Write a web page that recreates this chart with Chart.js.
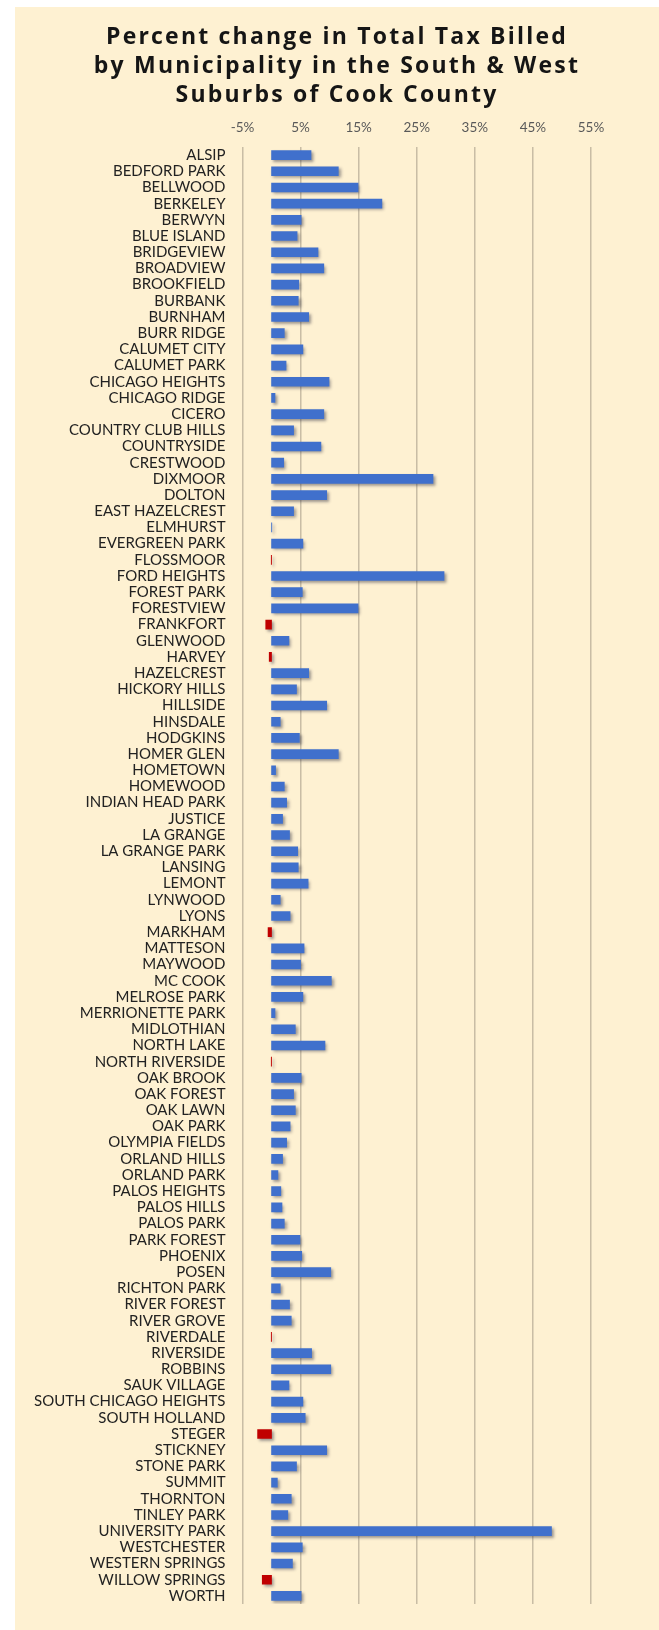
<!DOCTYPE html>
<html>
<head>
<meta charset="utf-8">
<script src="https://cdn.jsdelivr.net/npm/chart.js@4.4.1/dist/chart.umd.min.js"></script>
<style>
  html, body { margin: 0; padding: 0; background: #ffffff; }
  #frame { position: absolute; left: 15px; top: 7px; width: 644px; height: 1623px; background: #FEF1D2; }
  #title { position: absolute; left: 0; top: 14px; width: 644px; text-align: center;
           font-family: "Open Sans", Lato, sans-serif; font-weight: 700; font-size: 23px;
           line-height: 29px; letter-spacing: 2.2px; color: #151515; }
  #wrap { position: absolute; left: 0; top: 0; width: 644px; height: 1623px; }
</style>
</head>
<body>
<div id="frame">
  <div id="wrap"><canvas id="c"></canvas></div>
  <div id="title">Percent change in Total Tax Billed<br>by Municipality in the South &amp; West<br>Suburbs of Cook County</div>
</div>
<script>
const municipalities = [
  "ALSIP","BEDFORD PARK","BELLWOOD","BERKELEY","BERWYN","BLUE ISLAND","BRIDGEVIEW","BROADVIEW",
  "BROOKFIELD","BURBANK","BURNHAM","BURR RIDGE","CALUMET CITY","CALUMET PARK","CHICAGO HEIGHTS",
  "CHICAGO RIDGE","CICERO","COUNTRY CLUB HILLS","COUNTRYSIDE","CRESTWOOD","DIXMOOR","DOLTON",
  "EAST HAZELCREST","ELMHURST","EVERGREEN PARK","FLOSSMOOR","FORD HEIGHTS","FOREST PARK","FORESTVIEW",
  "FRANKFORT","GLENWOOD","HARVEY","HAZELCREST","HICKORY HILLS","HILLSIDE","HINSDALE","HODGKINS",
  "HOMER GLEN","HOMETOWN","HOMEWOOD","INDIAN HEAD PARK","JUSTICE","LA GRANGE","LA GRANGE PARK",
  "LANSING","LEMONT","LYNWOOD","LYONS","MARKHAM","MATTESON","MAYWOOD","MC COOK","MELROSE PARK",
  "MERRIONETTE PARK","MIDLOTHIAN","NORTH LAKE","NORTH RIVERSIDE","OAK BROOK","OAK FOREST","OAK LAWN",
  "OAK PARK","OLYMPIA FIELDS","ORLAND HILLS","ORLAND PARK","PALOS HEIGHTS","PALOS HILLS","PALOS PARK",
  "PARK FOREST","PHOENIX","POSEN","RICHTON PARK","RIVER FOREST","RIVER GROVE","RIVERDALE","RIVERSIDE",
  "ROBBINS","SAUK VILLAGE","SOUTH CHICAGO HEIGHTS","SOUTH HOLLAND","STEGER","STICKNEY","STONE PARK",
  "SUMMIT","THORNTON","TINLEY PARK","UNIVERSITY PARK","WESTCHESTER","WESTERN SPRINGS","WILLOW SPRINGS","WORTH"
];
const percentChange = [
  6.8, 11.5, 14.9, 19.0, 5.1, 4.4, 8.0, 9.0,
  4.7, 4.6, 6.4, 2.2, 5.4, 2.5, 9.9,
  0.6, 9.0, 3.8, 8.5, 2.1, 27.8, 9.5,
  3.8, 0.05, 5.4, -0.05, 29.7, 5.3, 14.9,
  -1.0, 3.0, -0.4, 6.4, 4.3, 9.5, 1.5, 4.8,
  11.5, 0.7, 2.2, 2.6, 1.9, 3.1, 4.5,
  4.6, 6.3, 1.5, 3.2, -0.6, 5.6, 5.0, 10.3, 5.4,
  0.6, 4.1, 9.2, -0.05, 5.1, 3.8, 4.1,
  3.2, 2.6, 1.9, 1.1, 1.6, 1.8, 2.2,
  4.9, 5.2, 10.2, 1.5, 3.1, 3.4, -0.05, 6.9,
  10.2, 3.0, 5.4, 5.8, -2.4, 9.5, 4.3,
  1.0, 3.4, 2.8, 48.2, 5.3, 3.6, -1.6, 5.1
];
const tickValues = [-5, 5, 15, 25, 35, 45, 55];

const shadowPlugin = {
  id: 'barShadow',
  beforeDatasetsDraw(chart) {
    const ctx = chart.ctx;
    ctx.save();
    ctx.shadowColor = 'rgba(40,40,60,0.45)';
    ctx.shadowBlur = 3;
    ctx.shadowOffsetX = 2;
    ctx.shadowOffsetY = 2;
  },
  afterDatasetsDraw(chart) {
    chart.ctx.restore();
  }
};

new Chart(document.getElementById('c'), {
  type: 'bar',
  data: {
    labels: municipalities,
    datasets: [{
      data: percentChange,
      backgroundColor: ctx => (percentChange[ctx.dataIndex] < 0 ? '#C00000' : '#4070CC'),
      barThickness: 9,
      borderWidth: 0
    }]
  },
  plugins: [shadowPlugin],
  options: {
    indexAxis: 'y',
    responsive: true,
    maintainAspectRatio: false,
    animation: false,
    layout: { padding: { top: 100, right: 68, bottom: 20, left: 0 } },
    plugins: {
      legend: { display: false },
      title: { display: false },
      tooltip: { enabled: false }
    },
    scales: {
      x: {
        position: 'top',
        min: -5,
        max: 55,
        afterBuildTicks: s => { s.ticks = tickValues.map(v => ({ value: v })); },
        afterFit: s => { s.height = 40; },
        grid: { color: 'rgba(165,155,135,0.6)', lineWidth: 1.5, drawTicks: false },
        border: { display: false },
        ticks: {
          padding: 11,
          color: '#595959',
          font: { family: 'Lato, "Open Sans", sans-serif', size: 13.5 },
          callback: v => v + '%'
        }
      },
      y: {
        afterFit: s => { s.width = 227.5; },
        grid: { display: false, drawTicks: false },
        border: { display: false },
        ticks: {
          autoSkip: false,
          padding: 17,
          color: '#222222',
          font: { family: 'Lato, "Open Sans", sans-serif', size: 15 }
        }
      }
    }
  }
});
</script>
</body>
</html>
